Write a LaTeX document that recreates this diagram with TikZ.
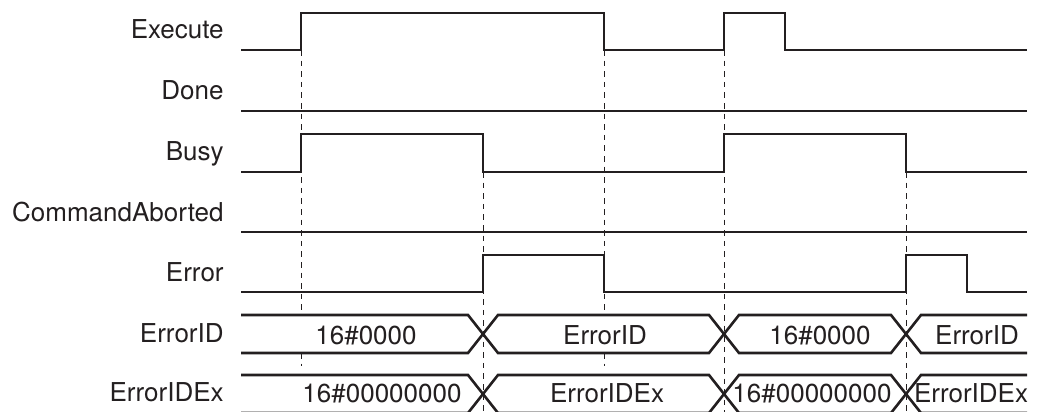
\documentclass[tikz,border=0pt]{standalone}
\usepackage{fontspec}
\setmainfont{TeX Gyre Heros}
\usepackage{tikz}
\usepackage{xcolor}
\usetikzlibrary{positioning}
\definecolor{ink}{HTML}{231F20}

\begin{document}
\begin{tikzpicture}[x=0.5pt, y=-0.5pt, color=ink, font=\fontsize{13}{15}\selectfont,
    sig/.style={line width=1.3pt, line join=miter},
    guide/.style={line width=0.5pt, dash pattern=on 2.8pt off 2.5pt},
    lbl/.style={anchor=base east, inner sep=0pt},
    val/.style={anchor=base, inner sep=0pt}]
  \useasboundingbox (0,0) rectangle (1040,412);

  % signal names
  \node[lbl] (execute) at (224,39)  {Execute};
  \node[lbl] (done)    at (224,99)  {Done};
  \node[lbl] (busy)    at (224,160) {Busy};
  \node[lbl] (aborted) at (224,221) {CommandAborted};
  \node[lbl] (error)   at (224,281) {Error};
  \node[lbl] (errid)   at (224,342) {ErrorID};
  \node[lbl] (errex)   at (224,401) {ErrorIDEx};

  % dashed timing guides
  \draw[guide] (301,50) -- (301,315) (301,353) -- (301,366);
  \draw[guide] (483,172) -- (483,412);
  \draw[guide] (604,50) -- (604,315) (604,353) -- (604,366);
  \draw[guide] (724,50) -- (724,412);
  \draw[guide] (906,172) -- (906,412);

  % bit signals
  \draw[sig] (241,50) -- (301,50) -- (301,13) -- (604,13) -- (604,50) -- (724,50)
             -- (724,13) -- (785,13) -- (785,50) -- (1027,50);
  \draw[sig] (241,111) -- (1027,111);
  \draw[sig] (241,172) -- (301,172) -- (301,134) -- (483,134) -- (483,172) -- (724,172)
             -- (724,134) -- (906,134) -- (906,172) -- (1027,172);
  \draw[sig] (241,232) -- (1027,232);
  \draw[sig] (241,292) -- (483,292) -- (483,255) -- (604,255) -- (604,292) -- (906,292)
             -- (906,255) -- (967,255) -- (967,292) -- (1027,292);

  % ErrorID bus
  \draw[sig] (241,315) -- (468,315) -- (498,353) -- (709,353) -- (739,315) -- (891,315)
             -- (921,353) -- (1027,353);
  \draw[sig] (241,353) -- (468,353) -- (498,315) -- (709,315) -- (739,353) -- (891,353)
             -- (921,315) -- (1027,315);
  \node[val] (idzero)  at (366,344) {16\#0000};
  \node[val] (idcode)  at (605,344) {ErrorID};
  \node[val] (idclear) at (820,344) {16\#0000};
  \node[val] (idagain) at (977,344) {ErrorID};

  % ErrorIDEx bus
  \draw[sig] (241,375) -- (468,375) -- (498,413) -- (709,413) -- (739,375) -- (891,375)
             -- (921,413) -- (1027,413);
  \draw[sig] (241,413) -- (468,413) -- (498,375) -- (709,375) -- (739,413) -- (891,413)
             -- (921,375) -- (1027,375);
  \node[val] (exzero)  at (382,402) {16\#00000000};
  \node[val] (excode)  at (607,402) {ErrorIDEx};
  \node[val] (exclear) at (812,402) {16\#00000000};
  \node[val] (exagain) at (971,402) {ErrorIDEx};
\end{tikzpicture}
\end{document}
